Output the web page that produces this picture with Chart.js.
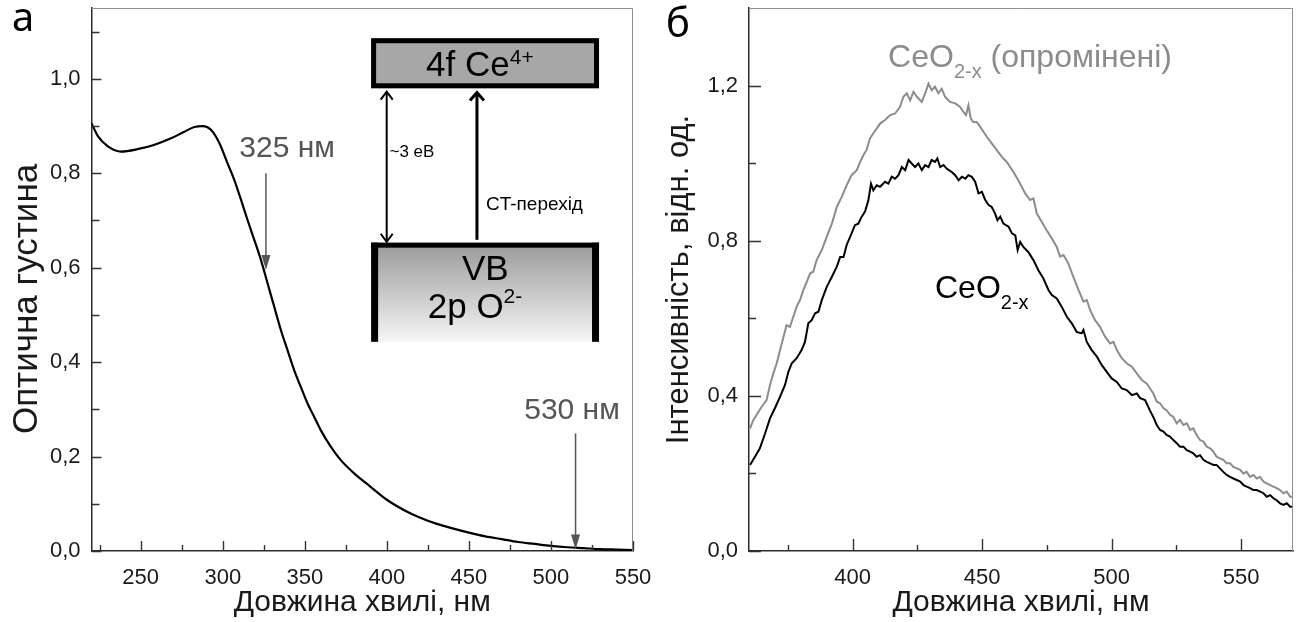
<!DOCTYPE html>
<html>
<head>
<meta charset="utf-8">
<script src="https://cdn.jsdelivr.net/npm/chart.js@4.4.1/dist/chart.umd.min.js"></script>
<style>
  html, body { margin: 0; padding: 0; background: #fff; }
  #wrap { position: relative; width: 1299px; height: 622px; overflow: hidden; }
  canvas { position: absolute; top: 0; }
</style>
</head>
<body>
<div id="wrap">
  <canvas id="chart-a" width="665" height="622" style="left:0"></canvas>
  <canvas id="chart-b" width="654" height="622" style="left:645px"></canvas>
</div>
<script>
// ── Data: (а) absorption spectrum ─────────────────────────────────────────────
const absWl = [220, 224, 230, 238, 248, 258, 268.5, 276.6, 282.7, 287.7, 292.8, 297.9, 302.9,
  307, 311.1, 315.1, 319.2, 323.2, 327.3, 331.3, 335.4, 339.4, 343.5, 347.5, 351.6, 355.6,
  359.7, 365.8, 371.8, 379.9, 390.1, 400.2, 410.3, 420, 430, 440, 450, 460, 470, 480, 490,
  500, 510, 520, 530, 540, 550]
const absOd = [0.906, 0.878, 0.857, 0.846, 0.851, 0.860, 0.874, 0.888, 0.898, 0.900, 0.892, 0.864, 0.821,
  0.786, 0.744, 0.701, 0.659, 0.617, 0.567, 0.518, 0.468, 0.426, 0.383, 0.348, 0.313, 0.285,
  0.256, 0.221, 0.193, 0.165, 0.136, 0.108, 0.087, 0.071, 0.058, 0.048, 0.039, 0.031, 0.025, 0.019, 0.015,
  0.011, 0.008, 0.006, 0.004, 0.003, 0.002]

// ── Data: (б) luminescence, irradiated CeO2-x (grey) ──────────────────────────
const irrWl = [360.4, 361.7, 364.9, 366.8, 368.1, 369.4, 370.7, 372.0, 373.3, 374.5, 375.8, 377.1, 378.4,
  379.7, 381.0, 382.3, 383.6, 384.8, 386.1, 388.1, 390.0, 392.0, 393.9, 395.8, 397.7, 399.6, 401.6,
  402.9, 404.2, 405.4, 406.7, 408.0, 409.3, 410.6, 412.5, 414.5, 416.4, 418.3, 419.6, 420.9, 422.2,
  423.5, 424.8, 426.7, 428.0, 429.3, 430.5, 431.8, 433.1, 434.4, 435.7, 437.6, 439.6, 441.5, 442.8,
  443.8, 444.7, 445.6, 446.6, 447.9, 449.2, 450.5, 451.8, 453.7, 455.6, 457.6, 459.5, 462.1, 464.6,
  466.6, 468.5, 469.8, 471.1, 473.0, 474.9, 476.9, 478.8, 480.1, 481.4, 483.3, 485.2, 487.2, 489.1,
  490.4, 491.7, 493.6, 495.5, 497.5, 499.4, 500.7, 502.0, 503.9, 505.8, 507.8, 509.7, 511.6, 513.5,
  514.8, 516.1, 517.4, 518.7, 520.0, 521.2, 522.5, 523.8, 525.1, 526.4, 527.7, 529.0, 530.3, 531.5,
  532.8, 534.1, 535.4, 536.7, 538.0, 539.3, 540.5, 541.8, 543.1, 544.4, 545.7, 547.0, 548.3, 549.6,
  550.9, 552.1, 553.4, 554.7, 556.0, 557.3, 558.6, 559.9, 561.2, 562.4, 563.7, 565.0, 566.3, 567.6,
  568.9, 570.0]
const irrInt = [0.316, 0.338, 0.372, 0.389, 0.428, 0.458, 0.484, 0.518, 0.552, 0.582, 0.578, 0.604, 0.630,
  0.647, 0.673, 0.694, 0.716, 0.720, 0.750, 0.776, 0.810, 0.844, 0.887, 0.913, 0.943, 0.969, 0.982,
  1.003, 1.021, 1.034, 1.064, 1.077, 1.089, 1.102, 1.111, 1.124, 1.128, 1.145, 1.171, 1.180, 1.162,
  1.184, 1.171, 1.158, 1.180, 1.205, 1.188, 1.197, 1.180, 1.192, 1.171, 1.158, 1.154, 1.145, 1.132,
  1.124, 1.149, 1.115, 1.106, 1.106, 1.094, 1.081, 1.068, 1.051, 1.034, 1.016, 1.003, 0.977, 0.948,
  0.922, 0.905, 0.909, 0.870, 0.849, 0.827, 0.806, 0.784, 0.759, 0.763, 0.741, 0.707, 0.673, 0.643,
  0.647, 0.621, 0.595, 0.578, 0.552, 0.535, 0.539, 0.518, 0.497, 0.484, 0.475, 0.458, 0.441, 0.432,
  0.419, 0.406, 0.385, 0.381, 0.368, 0.363, 0.351, 0.346, 0.329, 0.338, 0.325, 0.329, 0.312, 0.316,
  0.299, 0.286, 0.282, 0.269, 0.265, 0.256, 0.243, 0.239, 0.235, 0.226, 0.226, 0.217, 0.213, 0.209,
  0.200, 0.204, 0.191, 0.196, 0.187, 0.191, 0.179, 0.174, 0.170, 0.166, 0.162, 0.157, 0.149, 0.153,
  0.140, 0.140]

// ── Data: (б) luminescence, CeO2-x (black) ────────────────────────────────────
const refWl = [360.4, 362.3, 364.2, 366.2, 368.1, 370.0, 372.0, 373.9, 375.2, 376.5, 378.4, 380.3, 381.6,
  382.9, 384.2, 385.5, 386.8, 388.1, 390.0, 392.0, 393.9, 395.2, 396.5, 397.7, 399.6, 400.9, 402.2,
  403.5, 404.8, 406.1, 407.1, 408.0, 409.3, 410.6, 412.5, 413.8, 415.1, 416.4, 417.7, 419.0, 420.3,
  421.6, 422.8, 424.1, 425.4, 426.7, 428.0, 429.3, 430.5, 431.8, 432.7, 433.8, 435.1, 436.3, 438.3,
  439.6, 440.9, 442.2, 443.5, 444.7, 446.0, 447.3, 448.6, 449.9, 451.2, 452.5, 453.7, 455.0, 455.9,
  457.0, 458.2, 460.2, 461.5, 462.8, 463.7, 464.7, 465.9, 467.8, 469.8, 471.7, 473.6, 475.6, 476.9,
  478.8, 480.7, 482.7, 484.6, 486.5, 488.4, 489.1, 490.4, 492.3, 494.3, 496.2, 498.1, 500.0, 502.0,
  503.9, 505.8, 507.8, 509.7, 511.0, 512.9, 514.8, 516.1, 517.4, 518.7, 520.0, 521.2, 522.5, 523.8,
  525.1, 526.4, 527.7, 529.0, 530.3, 531.5, 532.8, 534.1, 535.4, 536.7, 538.0, 539.3, 540.5, 541.8,
  543.1, 544.4, 545.7, 547.0, 548.3, 549.6, 550.9, 552.1, 553.4, 554.7, 556.0, 557.3, 558.6, 559.9,
  561.2, 562.4, 563.7, 565.0, 566.3, 567.6, 568.9, 570.0]
const refInt = [0.222, 0.243, 0.265, 0.303, 0.342, 0.368, 0.398, 0.428, 0.462, 0.484, 0.497, 0.518, 0.539,
  0.587, 0.595, 0.613, 0.617, 0.647, 0.681, 0.707, 0.733, 0.758, 0.758, 0.789, 0.819, 0.840, 0.844,
  0.862, 0.875, 0.905, 0.947, 0.930, 0.943, 0.939, 0.952, 0.947, 0.965, 0.960, 0.969, 0.990, 0.982,
  1.008, 0.999, 0.990, 0.999, 0.982, 0.995, 0.990, 1.008, 1.003, 1.012, 0.990, 0.995, 0.986, 0.977,
  0.969, 0.956, 0.965, 0.960, 0.969, 0.965, 0.952, 0.922, 0.926, 0.905, 0.892, 0.887, 0.870, 0.853,
  0.862, 0.844, 0.836, 0.819, 0.814, 0.776, 0.797, 0.784, 0.771, 0.750, 0.724, 0.703, 0.673, 0.660,
  0.651, 0.630, 0.604, 0.587, 0.565, 0.561, 0.570, 0.539, 0.518, 0.501, 0.479, 0.462, 0.445, 0.436,
  0.419, 0.415, 0.402, 0.406, 0.394, 0.389, 0.362, 0.345, 0.325, 0.312, 0.308, 0.299, 0.295, 0.286,
  0.278, 0.269, 0.269, 0.260, 0.256, 0.252, 0.243, 0.247, 0.235, 0.230, 0.226, 0.222, 0.222, 0.213,
  0.204, 0.196, 0.191, 0.187, 0.183, 0.179, 0.170, 0.166, 0.162, 0.157, 0.157, 0.153, 0.149, 0.140,
  0.144, 0.136, 0.131, 0.123, 0.119, 0.123, 0.114, 0.114]

// ── Ticks ─────────────────────────────────────────────────────────────────────
const aXTicks = [250, 300, 350, 400, 450, 500, 550]
const aXMinor = [225, 275, 325, 375, 425, 475, 525]
const aYTicks = [0, 0.2, 0.4, 0.6, 0.8, 1.0]
const aYMinor = [0.1, 0.3, 0.5, 0.7, 0.9, 1.1]
const bXTicks = [400, 450, 500, 550]
const bXMinor = [375, 425, 475, 525]
const bYTicks = [0, 0.4, 0.8, 1.2]
const bYMinor = [0.2, 0.6, 1.0]

// ── Helpers ───────────────────────────────────────────────────────────────────
const FONT  = '"Liberation Sans", Arial, sans-serif'
const pts   = (xs, ys) => xs.map((x, i) => ({ x, y: ys[i] }))
const comma = v => v.toFixed(1).replace('.', ',')

// parts: [text, size, dy]; x/y = baseline start of the main text
function richText(ctx, x, y, parts, align = 'left') {
  ctx.textAlign = 'left'
  ctx.textBaseline = 'alphabetic'
  const widths = parts.map(p => { ctx.font = `${p[1]}px ${FONT}`; return ctx.measureText(p[0]).width })
  let cx = align === 'center' ? x - widths.reduce((s, w) => s + w, 0) / 2 : x
  parts.forEach((p, i) => {
    ctx.font = `${p[1]}px ${FONT}`
    ctx.fillText(p[0], cx, y + (p[2] || 0))
    cx += widths[i]
  })
}

function chevron(ctx, x, y, dir, w, h) {
  ctx.beginPath()
  ctx.moveTo(x - w, y + dir * h)
  ctx.lineTo(x, y)
  ctx.lineTo(x + w, y + dir * h)
  ctx.stroke()
}

function downArrow(ctx, x, y0, y1) {
  ctx.beginPath()
  ctx.moveTo(x, y0)
  ctx.lineTo(x, y1 - 12)
  ctx.stroke()
  ctx.beginPath()
  ctx.moveTo(x, y1)
  ctx.lineTo(x - 4.5, y1 - 15)
  ctx.lineTo(x + 4.5, y1 - 15)
  ctx.closePath()
  ctx.fill()
}

function frameTicks(o) {
  return {
    id: 'frameTicks',
    afterDraw(chart) {
      const { ctx, chartArea: a, scales: { x, y } } = chart
      ctx.save()
      ctx.strokeStyle = '#8e8e8e'
      ctx.lineWidth = 1
      ctx.beginPath()
      ctx.moveTo(a.left, a.top + 0.5)
      ctx.lineTo(a.right - 0.5, a.top + 0.5)
      ctx.lineTo(a.right - 0.5, a.bottom)
      ctx.stroke()

      ctx.strokeStyle = '#333'
      ctx.lineWidth = 1.4
      ctx.beginPath()
      const xt = (vals, len) => vals.forEach(v => {
        const p = Math.round(x.getPixelForValue(v)) + 0.5
        ctx.moveTo(p, a.bottom); ctx.lineTo(p, a.bottom - len)
      })
      const yt = (vals, len) => vals.forEach(v => {
        const p = Math.round(y.getPixelForValue(v)) + 0.5
        ctx.moveTo(a.left, p); ctx.lineTo(a.left + len, p)
      })
      xt(o.xMajor, o.major); xt(o.xMinor, o.minor)
      yt(o.yMajor, o.major); yt(o.yMinor, o.yMinorLen)
      ctx.stroke()
      ctx.restore()
    },
  }
}

function scaleOpts(min, max, ticks, fmt, title, titleSize, titlePad, axisSize, labelPad, isY) {
  return {
    type: 'linear',
    min, max,
    afterBuildTicks: s => { s.ticks = ticks.map(v => ({ value: v })) },
    afterFit: s => {
      if (isY) s.width = axisSize; else s.height = axisSize
      // keep tick labels from shrinking the plot area
      s.paddingTop = s.paddingBottom = s.paddingLeft = s.paddingRight = 0
    },
    grid:   { display: false, drawTicks: false },
    border: { display: true, color: '#2b2b2b', width: 1.5 },
    ticks:  {
      autoSkip: false, maxRotation: 0, padding: labelPad, color: '#1a1a1a',
      font: { family: FONT, size: 22 }, callback: fmt,
    },
    title: {
      display: true, text: title, color: '#1a1a1a',
      font: { family: FONT, size: titleSize }, padding: titlePad,
    },
  }
}

// ── Chart (а) ─────────────────────────────────────────────────────────────────
const annotA = {
  id: 'annotA',
  afterDatasetsDraw(chart) {
    const { ctx, scales: { x, y } } = chart
    const px = v => x.getPixelForValue(v), py = v => y.getPixelForValue(v)
    ctx.save()

    // panel label
    ctx.fillStyle = '#000'
    ctx.font = '40px "Noto Sans", sans-serif'
    ctx.textBaseline = 'alphabetic'
    ctx.fillText('а', 12, 31)

    // 325 / 530 nm markers
    ctx.fillStyle = '#555'
    ctx.strokeStyle = '#555'
    ctx.lineWidth = 1.5
    richText(ctx, px(310.1), py(0.835), [['325 нм', 30]])
    downArrow(ctx, px(326.3), py(0.800), py(0.595))
    richText(ctx, px(483.7), py(0.279), [['530 нм', 30]])
    downArrow(ctx, px(515), py(0.249), py(0.003))

    // energy diagram: 4f Ce4+ band
    const l = px(390.4), r = px(529.3)
    const t1 = py(1.086), b1 = py(0.980)
    ctx.fillStyle = '#a7a7a7'
    ctx.fillRect(l, t1, r - l, b1 - t1)
    ctx.strokeStyle = '#000'
    ctx.lineWidth = 5
    ctx.strokeRect(l + 2.5, t1 + 2.5, r - l - 5, b1 - t1 - 5)

    // VB 2p O2- band
    const t2 = py(0.653), b2 = py(0.443)
    const g = ctx.createLinearGradient(0, t2, 0, b2)
    g.addColorStop(0, '#999')
    g.addColorStop(1, '#f6f6f6')
    ctx.fillStyle = g
    ctx.fillRect(l, t2, r - l, b2 - t2)
    ctx.fillStyle = '#000'
    ctx.fillRect(l, t2, r - l, 5)
    ctx.fillRect(l, t2, 7, b2 - t2)
    ctx.fillRect(r - 7, t2, 7, b2 - t2)

    // arrows
    ctx.lineWidth = 2
    const xa = px(399.9)
    ctx.beginPath(); ctx.moveTo(xa, py(0.973)); ctx.lineTo(xa, py(0.655)); ctx.stroke()
    chevron(ctx, xa, py(0.973), 1, 6, 8)
    chevron(ctx, xa, py(0.655), -1, 6, 8)
    ctx.lineWidth = 3
    const xb = px(454.9)
    ctx.beginPath(); ctx.moveTo(xb, py(0.659)); ctx.lineTo(xb, py(0.971)); ctx.stroke()
    chevron(ctx, xb, py(0.971), 1, 7, 8)

    // labels
    ctx.fillStyle = '#000'
    richText(ctx, px(423.9), py(1.005), [['4f Ce', 35], ['4+', 21, -12]])
    richText(ctx, px(460), py(0.574), [['VB', 35]], 'center')
    richText(ctx, px(424.9), py(0.493), [['2p O', 35], ['2-', 21, -15]])
    richText(ctx, px(401.6), py(0.835), [['~3 еВ', 17]])
    richText(ctx, px(460.4), py(0.723), [['CT-перехід', 19]])
    ctx.restore()
  },
}

new Chart(document.getElementById('chart-a'), {
  type: 'line',
  data: {
    datasets: [{
      data: pts(absWl, absOd),
      borderColor: '#000',
      borderWidth: 2.2,
      pointRadius: 0,
      cubicInterpolationMode: 'monotone',
      tension: 0.4,
    }],
  },
  options: {
    responsive: false,
    animation: false,
    devicePixelRatio: 1,
    layout: { padding: { left: 0, right: 32, top: 8, bottom: 0 } },
    plugins: { legend: { display: false }, tooltip: { enabled: false } },
    scales: {
      x: scaleOpts(220, 550, aXTicks, v => String(v), 'Довжина хвилі, нм', 30, { top: 0, bottom: 1 }, 71, 14, false),
      // trailing spaces nudge the rotated title down, as in the original
      y: scaleOpts(0, 1.15, aYTicks, comma, 'Оптична густина\u00a0\u00a0\u00a0\u00a0', 35, { top: 6, bottom: 0 }, 91.5, 11, true),
    },
  },
  plugins: [frameTicks({ xMajor: aXTicks, xMinor: aXMinor, yMajor: aYTicks, yMinor: aYMinor, major: 10, minor: 6, yMinorLen: 8 }), annotA],
})

// ── Chart (б) ─────────────────────────────────────────────────────────────────
const annotB = {
  id: 'annotB',
  afterDatasetsDraw(chart) {
    const { ctx, scales: { x, y } } = chart
    const px = v => x.getPixelForValue(v), py = v => y.getPixelForValue(v)
    ctx.save()
    ctx.fillStyle = '#000'
    ctx.font = '40px "Noto Sans", sans-serif'
    ctx.textBaseline = 'alphabetic'
    ctx.fillText('б', 21, 37)

    ctx.fillStyle = '#8c8c8c'
    richText(ctx, px(413.7), py(1.248), [['CeO', 32], ['2-x', 20, 11], [' (опромінені)', 32]])
    ctx.fillStyle = '#000'
    richText(ctx, px(431.8), py(0.652), [['CeO', 32], ['2-x', 20, 11]])
    ctx.restore()
  },
}

new Chart(document.getElementById('chart-b'), {
  type: 'line',
  data: {
    datasets: [
      { data: pts(irrWl, irrInt), borderColor: '#8c8c8c', borderWidth: 2, pointRadius: 0, tension: 0 },
      { data: pts(refWl, refInt), borderColor: '#000',    borderWidth: 2, pointRadius: 0, tension: 0 },
    ],
  },
  options: {
    responsive: false,
    animation: false,
    devicePixelRatio: 1,
    layout: { padding: { left: 0, right: 6, top: 8, bottom: 0 } },
    plugins: { legend: { display: false }, tooltip: { enabled: false } },
    scales: {
      x: scaleOpts(360, 570, bXTicks, v => String(v), 'Довжина хвилі, нм', 30, { top: 0, bottom: 1 }, 71, 14, false),
      y: scaleOpts(0, 1.4, bYTicks, comma, 'Інтенсивність, відн. од.', 31, { top: 16, bottom: 0 }, 104, 11, true),
    },
  },
  plugins: [frameTicks({ xMajor: bXTicks, xMinor: bXMinor, yMajor: bYTicks, yMinor: bYMinor, major: 12, minor: 6, yMinorLen: 7 }), annotB],
})
</script>
</body>
</html>
